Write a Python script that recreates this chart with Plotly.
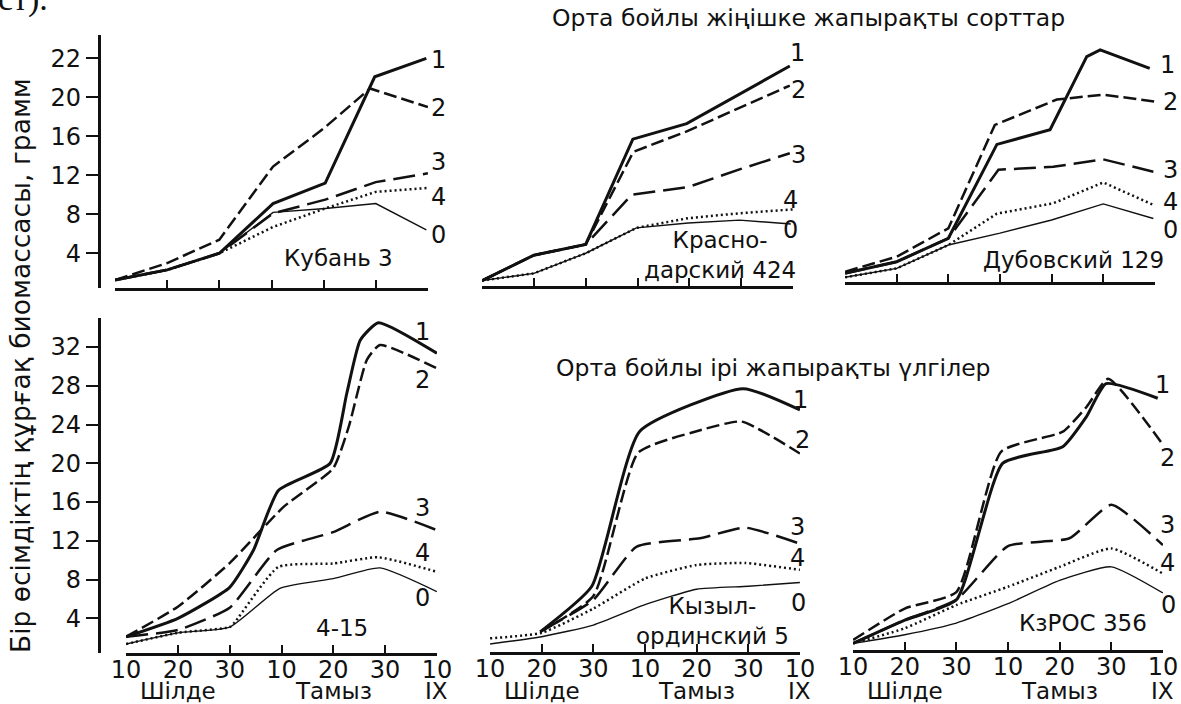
import plotly.graph_objects as go

W, H = 1181, 704

# x position 0..6 = 10, 20, 30 July, 10, 20, 30 August, 10 September
day_ticks = [0, 1, 2, 3, 4, 5, 6]
day_labels = ["10", "20", "30", "10", "20", "30", "10"]
month_labels = ["Шілде", "Тамыз", "IX"]
month_pos = [1, 4, 6]

top_title = "Орта бойлы жіңішке жапырақты сорттар"
bottom_title = "Орта бойлы ірі жапырақты үлгілер"
y_title = "Бір өсімдіктің құрғақ биомассасы, грамм"

varieties = ["Кубань 3", "Красно-<br>дарский 424", "Дубовский 129",
             "4-15", "Кызыл-<br>ординский 5", "КзРОС 356"]
series_names = ["1", "2", "3", "4", "0"]

top_yticks = [4, 8, 12, 16, 20, 24]
top_yticktext = ["4", "8", "12", "16", "20", "22"]
bottom_yticks = [4, 8, 12, 16, 20, 24, 28, 32]

# (day position, grams)
kuban_1 = [(0, 1.26), (1, 2.3), (2, 4.0), (3.03, 9.1), (4.03, 11.2), (4.98, 22.1), (5.97, 24.0)]
kuban_2 = [(0, 1.26), (1, 3.0), (2, 5.4), (3.03, 12.9), (4.0, 16.8), (4.89, 20.9), (6.0, 19.0)]
kuban_3 = [(0, 1.26), (1, 2.3), (2, 4.0), (3.03, 8.1), (4.03, 9.5), (5.0, 11.3), (6.0, 12.2)]
kuban_4 = [(0, 1.26), (1, 2.3), (2, 4.0), (3.03, 6.7), (4.03, 8.6), (5.0, 10.3), (6.0, 10.7)]
kuban_0 = [(0, 1.26), (1, 2.3), (2, 4.0), (3.03, 8.2), (4.03, 8.6), (5.0, 9.1), (5.97, 6.4)]

krasno_1 = [(0, 1.0), (1, 3.6), (2, 4.7), (2.91, 15.5), (3.95, 17.1), (5.94, 23.0)]
krasno_2 = [(0, 1.0), (1, 3.6), (2, 4.7), (2.92, 14.2), (3.95, 16.3), (5.94, 21.0)]
krasno_3 = [(0, 1.0), (1, 3.6), (2, 4.7), (2.89, 9.8), (3.98, 10.6), (4.97, 12.4), (5.94, 14.05)]
krasno_4 = [(0, 1.0), (1, 1.74), (2, 3.8), (2.98, 6.4), (3.98, 7.4), (4.97, 7.9), (6.0, 8.3)]
krasno_0 = [(0, 1.0), (1, 1.74), (2, 3.8), (2.98, 6.4), (3.98, 6.9), (4.97, 7.2), (5.96, 6.8)]

dubov_1 = [(0, 1.28), (1, 2.47), (2, 4.87), (2.94, 14.5), (3.97, 16.0), (4.68, 23.5), (4.94, 24.2), (5.9, 22.3)]
dubov_2 = [(0, 1.45), (1, 2.98), (2, 5.9), (2.9, 16.5), (4.1, 19.1), (5.0, 19.6), (6.0, 18.9)]
dubov_3 = [(0, 1.28), (1, 2.47), (2, 4.87), (2.97, 11.9), (4.03, 12.2), (5.0, 12.97), (5.97, 11.7)]
dubov_4 = [(0, 0.87), (1, 1.79), (2, 4.18), (2.94, 7.4), (4.03, 8.46), (5.0, 10.6), (5.97, 8.3)]
dubov_0 = [(0, 0.87), (1, 1.79), (2, 4.18), (3, 5.4), (4, 6.75), (5, 8.4), (5.97, 6.9)]

s415_1 = [(0, 2.1), (1, 4.0), (2, 7.2), (2.46, 11.05), (2.94, 17.2), (3.94, 20.0), (4.26, 27.2),
          (4.52, 32.7), (4.87, 34.5), (6.0, 31.35)]
s415_2 = [(0, 2.1), (1, 5.2), (2, 9.7), (3.04, 15.5), (4.0, 19.5), (4.3, 23.8), (4.65, 30.7),
          (4.9, 32.2), (6.0, 29.8)]
s415_3 = [(0, 2.1), (1, 2.8), (2, 5.1), (2.91, 11.05), (4.0, 12.9), (4.9, 15.0), (6.0, 13.1)]
s415_4 = [(0, 1.35), (1, 2.5), (2, 3.1), (2.1, 3.6), (2.94, 9.3), (4.0, 9.66), (4.87, 10.3), (6.0, 8.8)]
s415_0 = [(0, 1.35), (1, 2.5), (2, 3.1), (2.97, 7.1), (4.0, 8.1), (4.9, 9.2), (6.0, 6.75)]

kyzyl_1 = [(0.97, 2.5), (1.97, 7.2), (2.9, 23.2), (4.9, 27.6), (6.0, 25.4)]
kyzyl_2 = [(0.97, 2.5), (2.0, 6.2), (2.87, 21.0), (4.0, 23.2), (4.87, 24.2), (6.0, 20.9)]
kyzyl_3 = [(1.03, 2.7), (2.0, 5.8), (2.84, 11.3), (4.06, 12.15), (4.94, 13.25), (6.0, 11.6)]
kyzyl_4 = [(0, 1.83), (1, 2.4), (2, 4.9), (3, 8.0), (4, 9.4), (4.94, 9.6), (6, 8.9)]
kyzyl_0 = [(0, 1.25), (1, 2.0), (2, 3.2), (3, 5.3), (4, 6.9), (5, 7.2), (6, 7.6)]

kzros_1 = [(0, 1.1), (1, 3.5), (2, 5.6), (2.9, 19.7), (4.06, 21.4), (4.52, 24.5), (4.9, 27.9), (5.9, 26.4)]
kzros_2 = [(0, 1.45), (1, 4.7), (2, 6.4), (2.87, 20.9), (4.06, 22.95), (4.52, 25.5), (4.94, 28.4), (6.0, 21.6)]
kzros_3 = [(0, 1.1), (1, 3.5), (2, 5.6), (3.0, 11.15), (4.19, 11.95), (5.0, 15.4), (6.0, 11.25)]
kzros_4 = [(0, 1.1), (1, 2.66), (2, 5.06), (3, 6.95), (4, 9.0), (5, 10.9), (6, 8.3)]
kzros_0 = [(0, 1.1), (1, 2.0), (2, 3.2), (3, 5.2), (4, 7.6), (5, 9.0), (6, 6.3)]

panels_data = [
    [kuban_1, kuban_2, kuban_3, kuban_4, kuban_0],
    [krasno_1, krasno_2, krasno_3, krasno_4, krasno_0],
    [dubov_1, dubov_2, dubov_3, dubov_4, dubov_0],
    [s415_1, s415_2, s415_3, s415_4, s415_0],
    [kyzyl_1, kyzyl_2, kyzyl_3, kyzyl_4, kyzyl_0],
    [kzros_1, kzros_2, kzros_3, kzros_4, kzros_0],
]

# panel frames in pixels: x of first/last tick, baseline y, top y, baseline value, px per gram
frames = [
    (115, 428, 288, 35, 0.44, 9.75),
    (482, 793, 286, 35, 0.44, 9.75),
    (845, 1155, 281.5, 35, 0.44, 9.75),
    (126, 437, 653, 318, 0.42, 9.69),
    (490, 800, 652, 318, 0.42, 9.69),
    (853, 1163, 650, 318, 0.42, 9.69),
]

# series label positions (pixels)
label_pos = [
    [(438, 60), (438, 108), (438, 162), (438, 197), (438, 235)],
    [(797, 53), (798, 90), (798, 155), (790, 200), (790, 230)],
    [(1167, 65), (1170, 102), (1170, 170), (1170, 202), (1170, 230)],
    [(423, 332), (423, 380), (423, 508), (423, 553), (423, 598)],
    [(800, 400), (802, 440), (797, 527), (797, 558), (798, 603)],
    [(1162, 385), (1167, 458), (1167, 525), (1167, 563), (1168, 605)],
]
name_pos = [(338, 258), (720, 255), (1073, 260), (342, 628), (712, 621), (1083, 623)]

INK = "#111111"
FONT = "DejaVu Sans"
styles = [
    dict(width=3, dash="solid"),
    dict(width=2.5, dash="13px,5px"),
    dict(width=2.5, dash="22px,8px"),
    dict(width=2.5, dash="2px,3px"),
    dict(width=1.4, dash="solid"),
]


def px(x):
    return x / W


def py(y):
    return 1 - y / H


def note(x, y, text, size, **kw):
    d = dict(x=px(x), y=py(y), xref="paper", yref="paper", text=text, showarrow=False,
             xanchor="center", yanchor="middle", font=dict(family=FONT, size=size, color=INK))
    d.update(kw)
    return d


fig = go.Figure()
layout = {}
annotations = []

for i, (series, frame) in enumerate(zip(panels_data, frames)):
    n = "" if i == 0 else str(i + 1)
    x0, x1, base, top, b0, scale = frame
    bottom_row = i >= 3

    for pts, st in zip(series, styles):
        fig.add_trace(go.Scatter(
            x=[p[0] for p in pts], y=[p[1] for p in pts],
            mode="lines", xaxis="x" + n, yaxis="y" + n,
            line=dict(color=INK, width=st["width"], dash=st["dash"],
                      shape="spline" if bottom_row else "linear", smoothing=0.5),
            showlegend=False, hoverinfo="skip"))

    layout["xaxis" + n] = dict(
        domain=[px(x0), px(x1)], range=[-0.002, 6.002], anchor="y" + n,
        showline=True, linewidth=2.5, linecolor=INK, showgrid=False, zeroline=False,
        ticks="inside", ticklen=8, tickwidth=2, tickcolor=INK,
        tickvals=day_ticks, ticktext=day_labels, showticklabels=bottom_row,
        ticklabelstandoff=-7,
        tickfont=dict(family=FONT, size=24, color=INK))

    y_axis = dict(domain=[py(base), py(top)], range=[b0, b0 + (base - top) / scale],
                  showgrid=False, zeroline=False)
    if i in (0, 3):
        y_axis.update(anchor="free", position=px(98.5), showline=True, linewidth=2.5,
                      linecolor=INK, ticks="outside", ticklen=12, tickwidth=2, tickcolor=INK,
                      tickfont=dict(family=FONT, size=24, color=INK))
        if i == 0:
            y_axis.update(tickvals=top_yticks, ticktext=top_yticktext)
        else:
            y_axis.update(tickvals=bottom_yticks)
    else:
        y_axis.update(visible=False)
    layout["yaxis" + n] = y_axis

    for name, (lx, ly) in zip(series_names, label_pos[i]):
        annotations.append(note(lx, ly, name, 24))
    nx, ny = name_pos[i]
    annotations.append(note(nx, ny, varieties[i], 23, align="center"))

    if bottom_row:
        for m, mp in zip(month_labels, month_pos):
            annotations.append(dict(x=mp, y=py(691), xref="x" + n, yref="paper", text=m,
                                    showarrow=False, xanchor="center", yanchor="middle",
                                    font=dict(family=FONT, size=23, color=INK)))

annotations += [
    note(808, 18, top_title, 23.5),
    note(773, 368, bottom_title, 23.5),
    note(20, 366, y_title, 26.5, textangle=-90),
    note(0, 20, "ст).", 34, xanchor="left", yanchor="bottom", xshift=-4,
         font=dict(family="Liberation Serif", size=34, color=INK)),
]

fig.update_layout(**layout)
fig.update_layout(template="none", width=W, height=H,
                  margin=dict(l=0, r=0, t=0, b=0),
                  paper_bgcolor="white", plot_bgcolor="white",
                  annotations=annotations)

fig.write_html("out.html", config={"displayModeBar": False},
               post_script="document.body.style.margin='0';document.body.style.overflow='hidden';")
